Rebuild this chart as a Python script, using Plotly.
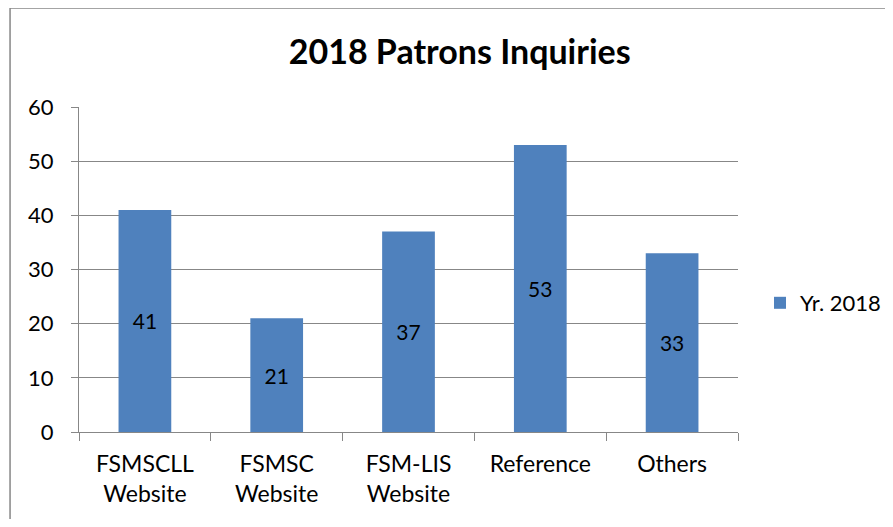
import plotly.graph_objects as go

categories = ["FSMSCLL<br>Website", "FSMSC<br>Website", "FSM-LIS<br>Website", "Reference", "Others"]
values = [41, 21, 37, 53, 33]
series_name = "Yr. 2018"
title = "2018 Patrons Inquiries"
y_ticks = [0, 10, 20, 30, 40, 50, 60]

OFF = 8  # page body margin
W, H = 893 - 2 * OFF, 527 - 2 * OFF
L, R, T, B = 78.5 - OFF, 738 - OFF, 107 - OFF, 432 - OFF  # plot area pixels in figure

def px_x(p):
    return (p - OFF - L) / (R - L)

def px_y(p):
    return (B - (p - OFF)) / (B - T)

FONT = "Lato"
GRID = "#878787"

fig = go.Figure()
fig.add_trace(go.Bar(
    x=categories, y=values, name=series_name,
    marker=dict(color="#4F81BD", line=dict(width=0)),
    width=0.4,
    text=[str(v) for v in values],
    textposition="inside", insidetextanchor="middle",
    textfont=dict(family=FONT, size=21, color="black"),
    showlegend=True,
))

fig.update_layout(
    width=W, height=H,
    margin=dict(l=L, r=W - R, t=T, b=H - B, pad=0, autoexpand=False),
    paper_bgcolor="white", plot_bgcolor="white",
    title=dict(text="<b>" + title + "</b>", x=px_x(459.5), xref="paper", xanchor="center",
               y=1 - (52 - OFF) / H, yanchor="middle",
               font=dict(family=FONT, size=34, color="black")),
    font=dict(family=FONT, size=22, color="black"),
    showlegend=True,
    legend=dict(x=px_x(760), y=px_y(303), xanchor="left", yanchor="middle",
                font=dict(family=FONT, size=22, color="black"),
                itemwidth=30, bgcolor="rgba(0,0,0,0)"),
    bargap=0.6,
)

fig.update_yaxes(
    range=[0, 60], tickvals=y_ticks, showgrid=True, gridcolor=GRID, gridwidth=1,
    showline=True, linecolor=GRID, linewidth=1,
    ticks="outside", ticklen=7, tickcolor=GRID, ticklabelstandoff=13,
    tickfont=dict(family=FONT, size=22, color="black"), zeroline=False,
)
fig.update_xaxes(
    showgrid=False, showline=True, linecolor=GRID, linewidth=1,
    ticks="outside", ticklen=8, tickcolor=GRID, tickson="boundaries",
    tickfont=dict(family=FONT, size=23, color="black"), ticklabelstandoff=11,
)

# chart border
fig.add_shape(type="rect", xref="paper", yref="paper",
              x0=px_x(9.5), x1=px_x(893 + 20), y0=px_y(527 + 20), y1=px_y(8),
              line=dict(color="#878787", width=1.5), fillcolor="rgba(0,0,0,0)", layer="below")

fig.write_html("out.html")
